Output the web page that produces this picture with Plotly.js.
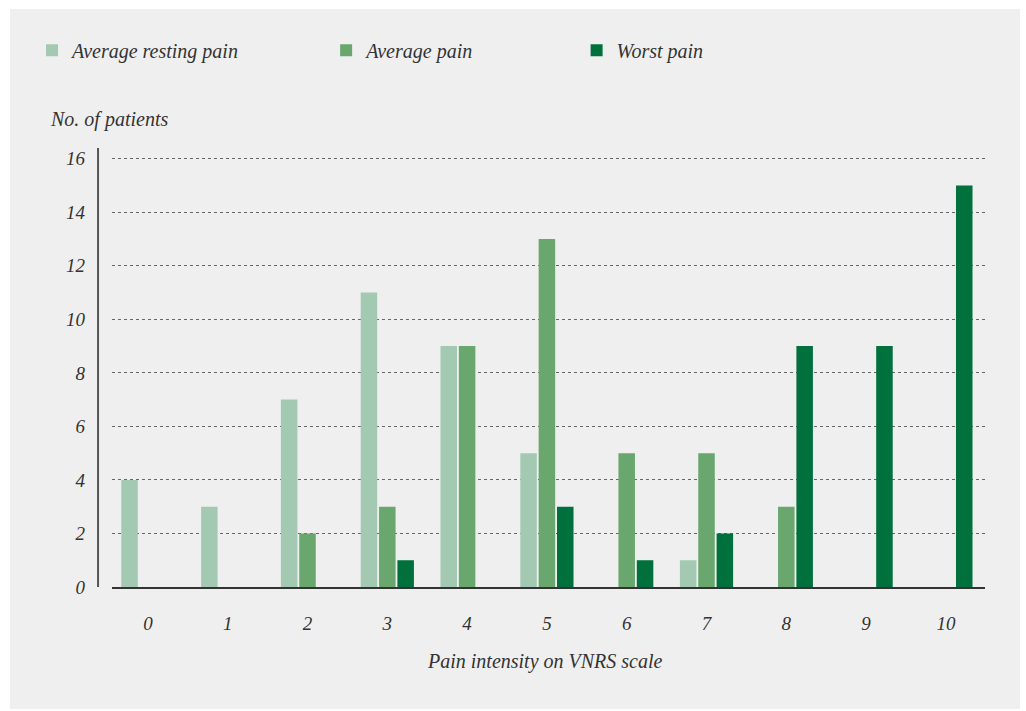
<!DOCTYPE html>
<html>
<head>
<meta charset="utf-8">
<script src="https://cdn.plot.ly/plotly-3.0.1.min.js"></script>
<style>
  html, body { margin: 0; padding: 0; background: #ffffff; }
  #chart { position: absolute; left: 10px; top: 9px; width: 1010px; height: 700px; }
</style>
</head>
<body>
<div id="chart"></div>
<script>
const categories = ['0', '1', '2', '3', '4', '5', '6', '7', '8', '9', '10'];
const restingPain = [4, 3, 7, 11, 9, 5, 0, 1, 0, 0, 0];
const averagePain = [0, 0, 2, 3, 9, 13, 5, 5, 3, 0, 0];
const worstPain = [0, 0, 0, 1, 0, 3, 1, 2, 9, 9, 15];
const seriesNames = ['Average resting pain', 'Average pain', 'Worst pain'];
const yTicks = [0, 2, 4, 6, 8, 10, 12, 14, 16];

const FONT = 'Liberation Serif, DejaVu Serif, serif';
const colors = ['#a4c9b3', '#69a76f', '#00703c'];

const traces = [restingPain, averagePain, worstPain].map((vals, i) => ({
  type: 'bar',
  name: seriesNames[i],
  x: categories,
  y: vals,
  marker: { color: colors[i], line: { width: 0 } },
  legend: i === 0 ? 'legend' : 'legend' + (i + 1),
  hoverinfo: 'x+y+name'
}));

const legendBase = {
  orientation: 'h',
  xref: 'container', yref: 'container',
  xanchor: 'left', yanchor: 'middle',
  y: 0.941,
  bgcolor: 'rgba(0,0,0,0)',
  font: { family: FONT, size: 20, color: '#333', style: 'italic' }
};

const layout = {
  width: 1010, height: 700,
  paper_bgcolor: '#efefef',
  plot_bgcolor: '#efefef',
  margin: { l: 102, r: 35, t: 139, b: 122 },
  barmode: 'group',
  bargap: 0.31,
  bargroupgap: 0.1,
  showlegend: true,
  legend: Object.assign({}, legendBase, { x: 0.0218 }),
  legend2: Object.assign({}, legendBase, { x: 0.313 }),
  legend3: Object.assign({}, legendBase, { x: 0.561 }),
  xaxis: {
    type: 'category',
    range: [-0.45, 10.49],
    showgrid: false,
    zeroline: false,
    showline: true,
    linecolor: '#333',
    linewidth: 2,
    ticks: '',
    ticklabelstandoff: 18,
    tickfont: { family: FONT, size: 19, color: '#333', style: 'italic' },
    fixedrange: true
  },
  yaxis: {
    range: [0, 16.4],
    tickvals: yTicks,
    ticktext: yTicks.map(String),
    showgrid: true,
    gridcolor: '#666',
    griddash: 'dot',
    gridwidth: 1,
    zeroline: false,
    showline: false,
    ticks: '',
    ticklabelstandoff: 26,
    tickfont: { family: FONT, size: 19, color: '#333', style: 'italic' },
    fixedrange: true
  },
  shapes: [{
    type: 'line', xref: 'paper', yref: 'y',
    x0: -0.016, x1: -0.016, y0: -0.03, y1: 16.4,
    line: { color: '#555', width: 2 }
  }],
  annotations: [
    {
      text: 'No. of patients', xref: 'paper', yref: 'paper',
      x: -0.0733, y: 1.066, xanchor: 'left', yanchor: 'middle', showarrow: false,
      font: { family: FONT, size: 20, color: '#333', style: 'italic' }
    },
    {
      text: 'Pain intensity on VNRS scale', xref: 'paper', yref: 'paper',
      x: 0.496, y: -0.1686, xanchor: 'center', yanchor: 'middle', showarrow: false,
      font: { family: FONT, size: 20, color: '#333', style: 'italic' }
    }
  ]
};

Plotly.newPlot('chart', traces, layout, { displayModeBar: false });
</script>
</body>
</html>
